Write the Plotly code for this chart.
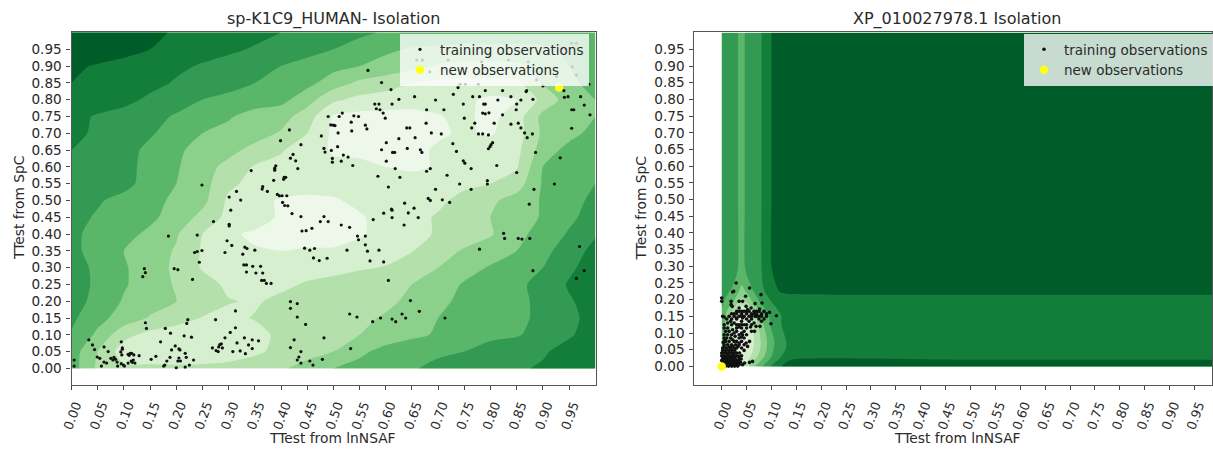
import plotly.graph_objects as go

W, H = 1213, 449
band_colors = ["#edf8ea", "#d5efcf", "#b3e0ab", "#8bd08b", "#5ab769", "#339a53", "#137e3a", "#005c29"]
tick_vals = [round(i * 0.05, 2) for i in range(20)]
tick_text = [f"{v:.2f}" for v in tick_vals]

left_title = "sp-K1C9_HUMAN- Isolation"
right_title = "XP_010027978.1 Isolation"
x_label = "TTest from lnNSAF"
y_label = "TTest from SpC"
train_name = "training observations"
new_name = "new observations"

left_grid_x = [0, .05, .10, .15, .20, .25, .30, .35, .40, .45, .50, .55, .60, .65, .70, .75, .80, .85, .90, .95, 1.0]
left_grid_y = [0, .05, .10, .15, .20, .25, .30, .35, .40, .45, .50, .55, .60, .65, .70, .75, .80, .85, .90, .95, 1.0]
left_levels = [
 [4.0,2.3,1.7,1.7,1.7,1.7,1.8,2.1,2.4,2.8,3.5,3.8,4.1,4.4,4.8,5.1,5.3,5.4,5.6,6.0,6.3],
 [4.0,2.5,1.0,0.9,0.8,0.9,1.0,1.3,1.8,2.2,2.5,3.3,3.8,4.1,4.3,4.5,5.0,5.2,5.4,5.8,6.2],
 [4.4,3.3,1.8,1.2,1.0,0.9,1.0,1.2,1.7,2.0,2.3,2.5,3.0,3.3,3.6,4.0,4.2,4.4,4.9,5.4,5.9],
 [4.7,3.8,3.1,2.4,1.9,1.45,1.3,1.55,1.9,2.0,2.1,2.3,2.6,3.1,3.5,3.8,4.1,4.3,4.7,5.3,5.8],
 [4.9,4.2,3.4,2.9,2.5,2.0,1.55,1.4,1.7,1.9,2.1,2.2,2.3,2.7,3.3,3.7,4.0,4.3,4.7,5.4,5.9],
 [5.0,4.3,3.6,3.0,2.4,1.9,1.3,1.2,1.3,1.6,1.8,2.0,2.2,2.5,3.0,3.6,3.9,4.3,4.8,5.6,6.2],
 [4.9,4.3,3.6,3.0,2.3,1.4,1.1,1.0,1.0,1.1,1.2,1.4,1.55,2.1,2.5,3.1,3.6,4.0,4.5,5.3,6.0],
 [4.7,4.2,3.5,3.0,2.4,1.4,0.9,0.55,0.5,0.55,0.55,0.8,1.1,1.45,2.1,2.6,3.0,3.5,4.2,5.0,5.8],
 [4.7,4.2,3.8,3.3,2.6,1.5,0.6,0.4,0.3,0.3,0.3,0.4,0.8,1.2,1.6,2.0,2.4,3.2,3.9,4.6,5.4],
 [4.8,4.4,4.0,3.7,3.1,2.2,1.2,0.8,0.4,0.3,0.3,0.4,0.8,1.2,1.6,2.0,2.5,3.0,3.6,4.3,4.9],
 [5.0,4.6,4.2,3.8,3.3,2.8,1.3,0.8,0.4,0.3,0.4,0.7,0.9,1.1,1.3,1.8,2.3,2.9,3.6,4.2,4.7],
 [5.2,5.0,4.8,4.1,3.5,2.9,1.7,1.2,1.0,0.9,0.9,0.9,0.9,1.0,1.1,1.3,1.5,2.0,3.6,4.0,4.5],
 [5.3,5.1,4.8,4.2,3.6,2.9,2.2,1.4,1.2,0.8,0.7,0.8,0.5,0.3,0.6,0.8,1.0,1.4,3.5,4.0,4.4],
 [5.5,5.2,4.8,4.3,3.7,3.1,2.8,2.2,1.6,0.9,0.4,0.2,0.2,0.3,0.6,0.8,1.0,1.2,3.0,3.8,4.2],
 [5.8,5.3,5.0,4.6,4.1,3.5,3.2,2.9,2.4,1.5,0.3,0.2,0.2,0.2,0.4,0.6,0.4,1.0,2.7,3.2,3.8],
 [5.8,5.4,5.1,4.8,4.4,4.0,3.6,3.1,2.9,2.0,0.4,0.2,0.2,0.2,0.45,0.7,0.2,1.0,2.8,3.1,3.5],
 [6.2,6.0,5.8,5.3,4.9,4.5,4.2,4.0,3.8,2.9,1.7,1.2,1.0,0.9,0.8,0.7,0.3,0.5,1.8,3.0,3.5],
 [6.5,6.3,6.1,5.8,5.4,5.1,4.9,4.5,4.2,3.8,3.0,2.3,2.0,1.5,1.3,1.2,1.2,1.3,2.6,3.3,3.8],
 [6.7,6.4,6.2,5.9,5.7,5.4,5.1,4.8,4.5,4.2,3.8,3.5,3.1,2.8,2.4,2.2,2.2,2.3,2.9,3.5,3.9],
 [7.3,7.1,6.8,6.5,6.2,5.9,5.7,5.4,5.1,4.8,4.5,4.1,3.7,3.4,3.3,3.2,3.2,3.2,3.3,3.7,4.1],
 [7.6,7.3,7.1,6.7,6.4,6.2,6.0,5.8,5.5,5.2,5.0,4.7,4.4,4.3,4.2,4.1,4.1,4.1,4.1,4.1,4.1],
]

right_grid_x = [0, .02, .03, .04, .05, .06, .08, .10, .12, .14, .5, 1.0]
right_grid_y = [0, .01, .02, .03, .05, .07, .10, .125, .15, .175, .20, .225, .25, .30, .5, 1.0]
right_levels = [
 [3.0,2.0,1.8,1.8,2.2,3.0,4.4,5.6,6.5,7.0,7.0,7.0],
 [3.2,1.6,1.2,1.1,1.6,2.4,3.9,5.2,6.3,6.8,6.9,6.9],
 [3.5,1.3,0.9,0.8,1.2,2.0,3.5,4.8,5.8,6.5,6.5,6.5],
 [3.8,1.2,0.7,0.5,1.0,1.6,3.1,4.5,5.5,6.0,6.2,6.2],
 [4.0,1.2,0.6,0.4,0.7,1.3,2.7,4.3,5.3,5.8,6.0,6.0],
 [4.1,1.3,0.5,0.3,0.5,1.1,2.6,4.2,5.2,5.8,6.0,6.0],
 [4.2,1.5,0.5,0.2,0.5,1.2,2.8,4.4,5.4,5.8,6.0,6.0],
 [4.3,1.8,0.7,0.3,0.6,1.4,3.2,4.7,5.5,5.9,6.0,6.0],
 [4.3,2.0,0.9,0.4,0.8,1.6,3.4,4.8,5.5,5.9,6.0,6.0],
 [4.5,3.0,2.0,1.2,1.6,2.5,4.2,5.2,5.8,6.0,6.1,6.1],
 [4.7,4.0,3.2,2.3,2.8,3.6,4.9,5.6,6.0,6.1,6.2,6.2],
 [4.9,4.4,3.8,3.2,3.6,4.3,5.2,6.2,6.6,6.7,6.7,6.7],
 [5.0,4.7,4.2,3.6,4.1,4.7,5.4,6.3,6.8,6.9,7.0,7.0],
 [5.1,5.0,4.8,3.8,4.9,5.0,5.5,6.5,6.9,7.0,7.0,7.0],
 [5.1,5.0,4.8,3.8,4.9,5.0,5.5,6.5,6.9,7.0,7.0,7.0],
 [5.1,5.0,4.8,3.8,4.9,5.0,5.5,6.5,6.9,7.0,7.0,7.0],
]

left_train = [
 (.416,.710),(.399,.678),(.438,.666),(.423,.637),(.418,.626),(.428,.618),(.432,.595),(.343,.589),(.390,.603),(.388,.596),(.388,.590),
 (.406,.569),(.409,.569),(.405,.563),(.386,.560),(.249,.546),(.365,.541),(.364,.534),(.374,.527),(.315,.527),(.301,.510),(.323,.501),
 (.393,.518),(.397,.514),(.402,.514),(.411,.514),(.403,.494),(.407,.485),(.413,.484),(.304,.471),(.421,.461),(.438,.452),(.271,.437),(.301,.429),
 (.185,.394),(.240,.397),(.301,.424),(.440,.409),(.448,.410),(.459,.417),(.297,.380),(.306,.366),(.331,.361),(.335,.357),(.350,.352),(.327,.340),
 (.445,.358),(.455,.352),(.464,.357),(.462,.329),(.473,.321),(.293,.345),(.235,.345),(.240,.348),(.249,.351),(.244,.316),(.329,.308),(.334,.308),
 (.346,.304),(.361,.304),(.334,.287),(.352,.284),(.365,.284),(.196,.297),(.203,.294),(.139,.297),(.141,.285),(.136,.273),(.231,.265),(.363,.262),
 (.368,.262),(.372,.253),(.381,.253),(.418,.199),(.431,.193),(.418,.179),(.313,.171),(.431,.153),(.447,.131),(.275,.145),(.222,.145),(.220,.134),
 (.141,.136),(.143,.119),(.179,.119),(.189,.105),(.313,.121),(.303,.107),(.215,.097),(.229,.093),(.293,.091),(.330,.091),(.345,.085),(.357,.082),
 (.338,.070),(.316,.076),(.033,.085),(.040,.070),(.044,.056),(.062,.064),(.070,.050),(.095,.079),(.097,.061),(.097,.057),(.170,.079),(.286,.073),
 (.283,.071),(.281,.064),(.269,.061),(.276,.053),(.280,.050),(.288,.061),(.308,.050),(.322,.052),(.332,.044),(.345,.059),(.425,.085),(.418,.062),
 (.438,.050),(.434,.034),(.431,.025),(.438,.016),(.455,.022),(.461,.010),(.191,.055),(.198,.067),(.205,.058),(.207,.055),(.217,.045),(.219,.033),
 (.233,.025),(.225,.010),(.217,.004),(.200,.002),(.205,.031),(.208,.022),(.203,.022),(.182,.022),(.188,.033),(.178,.010),(.176,.007),(.152,.027),
 (.161,.036),(.005,.025),(.005,.007),(.049,.034),(.054,.030),(.057,.007),(.062,.019),(.067,.016),(.075,.030),(.081,.033),(.084,.027),(.079,.025),
 (.087,.019),(.088,.007),(.094,.049),(.096,.040),(.095,.014),(.099,.010),(.101,.007),(.108,.016),(.108,.042),(.112,.045),(.115,.045),(.119,.040),
 (.110,.039),(.129,.038),(.114,.022),(.118,.025),(.116,.018),(.121,.016),
 (.515,.427),(.531,.420),(.635,.427),(.546,.394),(.561,.394),(.548,.383),(.561,.368),(.565,.349),(.587,.352),(.526,.352),(.488,.328),(.570,.320),
 (.596,.317),(.605,.262),(.825,.402),(.827,.387),(.853,.387),(.860,.385),(.875,.387),(.779,.355),(.970,.363),(.881,.291),(.979,.291),(.964,.268),
 (.647,.202),(.664,.170),(.713,.150),(.531,.162),(.545,.153),(.590,.150),(.575,.139),(.612,.147),(.619,.139),(.631,.162),(.638,.150),(.482,.091),
 (.533,.059),(.479,.027),
 (.566,.887),(.592,.851),(.610,.830),(.738,.836),(.742,.846),(.752,.846),(.777,.846),(.790,.827),(.823,.827),(.869,.827),(.868,.824),(.729,.816),
 (.900,.841),(.940,.827),(.941,.807),(.948,.809),(.972,.809),(.988,.846),(.979,.784),(.625,.801),(.655,.809),(.695,.799),(.766,.809),(.779,.809),
 (.814,.799),(.839,.809),(.858,.799),(.881,.801),(.579,.787),(.587,.787),(.612,.787),(.748,.787),(.787,.787),(.790,.787),(.850,.787),(.582,.773),
 (.589,.770),(.678,.770),(.711,.770),(.849,.770),(.955,.770),(.959,.770),(.595,.760),(.517,.760),(.511,.750),(.490,.750),(.599,.745),(.785,.760),
 (.790,.758),(.797,.761),(.823,.755),(.750,.745),(.990,.755),(.539,.752),(.548,.750),(.534,.733),(.677,.730),(.770,.730),(.807,.730),(.839,.727),
 (.853,.730),(.495,.725),(.500,.724),(.503,.723),(.561,.724),(.564,.713),(.640,.716),(.646,.716),(.764,.716),(.858,.716),(.955,.715),(.509,.701),
 (.535,.707),(.687,.701),(.706,.698),(.777,.698),(.785,.698),(.796,.695),(.865,.701),(.880,.698),(.870,.687),(.477,.692),(.625,.684),(.656,.687),
 (.601,.672),(.728,.669),(.804,.672),(.801,.666),(.799,.660),(.796,.654),(.482,.655),(.508,.660),(.496,.649),(.484,.644),(.592,.651),(.641,.655),
 (.666,.651),(.669,.643),(.735,.646),(.613,.643),(.617,.643),(.886,.643),(.519,.635),(.528,.629),(.498,.625),(.515,.617),(.498,.614),(.601,.617),
 (.933,.627),(.748,.618),(.751,.611),(.537,.604),(.763,.595),(.812,.604),(.618,.595),(.685,.595),(.678,.587),(.850,.583),(.717,.575),(.585,.572),
 (.627,.569),(.794,.559),(.794,.549),(.741,.549),(.922,.549),(.605,.540),(.695,.533),(.763,.533),(.883,.533),(.681,.506),(.685,.500),(.708,.502),
 (.722,.494),(.874,.489),(.636,.492),(.611,.474),(.612,.471),(.654,.477),(.596,.462),(.643,.463),(.612,.449),(.662,.449),(.576,.443),(.482,.452),
 (.475,.437),(.490,.437),
 (.659,.918),(.670,.918),(.719,.918),(.955,.968),(.964,.968),(.872,.913),(.956,.898),(.964,.873),(.888,.859),(.926,.869),(.684,.883),(.783,.913),(.834,.918),
]
left_new = [(.931, .836)]

right_train = [
 (.029,.250),(.056,.235),(.022,.223),(.024,.225),(.000,.205),(.000,.195),(.019,.195),(.048,.210),(.079,.215),(.035,.195),(.042,.195),(.019,.185),
 (.067,.188),(.081,.190),(.021,.180),(.049,.180),(.059,.175),(.076,.172),(.096,.162),(.110,.152),(.099,.128),(.002,.150),(.005,.148),
 (.030,.165),(.035,.165),(.040,.165),(.045,.165),(.050,.165),(.055,.165),(.065,.165),(.070,.165),(.075,.165),(.085,.165),
 (.020,.158),(.025,.158),(.030,.158),(.040,.158),(.050,.158),(.060,.158),(.065,.158),(.070,.158),(.080,.158),(.090,.158),
 (.015,.150),(.025,.150),(.035,.150),(.040,.150),(.045,.150),(.055,.150),(.060,.150),(.070,.150),(.075,.150),(.080,.150),(.090,.150),
 (.010,.142),(.020,.142),(.030,.142),(.050,.142),(.060,.142),(.075,.142),(.085,.142),(.018,.135),(.040,.135),(.055,.135),(.080,.135),
 (.069,.120),(.077,.120),(.066,.105),(.056,.075),(.049,.070),(.052,.060),(.062,.015),(.056,.012),(.046,.010),(.042,.005),(.035,.025),(.039,.022),
 (.005,.125),(.020,.125),(.030,.125),(.035,.125),(.040,.125),(.045,.125),(.050,.125),(.060,.125),
 (.005,.115),(.012,.115),(.030,.115),(.040,.115),(.050,.115),(.008,.105),(.015,.105),(.030,.105),(.045,.105),(.060,.105),
 (.005,.095),(.012,.095),(.020,.095),(.035,.095),(.042,.095),(.050,.095),(.005,.085),(.010,.085),(.018,.085),(.035,.085),(.045,.085),
 (.008,.075),(.015,.075),(.025,.075),(.030,.075),(.040,.075),(.005,.065),(.012,.065),(.020,.065),(.028,.065),(.035,.065),(.045,.065),
 (.002,.055),(.010,.055),(.018,.055),(.025,.055),(.030,.055),(.040,.055),
 (.002,.048),(.008,.048),(.014,.048),(.020,.048),(.026,.048),(.000,.040),(.005,.040),(.010,.040),(.015,.040),(.020,.040),(.025,.040),(.030,.040),
 (.000,.032),(.005,.032),(.010,.032),(.015,.032),(.020,.032),(.025,.032),(.030,.032),(.002,.025),(.007,.025),(.012,.025),(.017,.025),(.022,.025),(.027,.025),
 (.000,.018),(.005,.018),(.010,.018),(.015,.018),(.020,.018),(.025,.018),(.030,.018),(.035,.018),
 (.002,.011),(.007,.011),(.012,.011),(.017,.011),(.022,.011),(.027,.011),(.032,.011),
 (.000,.005),(.005,.005),(.010,.005),(.015,.005),(.020,.005),(.025,.005),(.030,.005),(.035,.005),
 (.002,.001),(.008,.001),(.014,.001),(.020,.001),(.026,.001),(.032,.001),
 (.012,.130),(.025,.130),(.035,.118),(.022,.110),(.025,.100),(.040,.100),(.027,.090),(.040,.088),(.022,.080),(.035,.070),(.015,.058),(.022,.060),
 (.005,.058),(.036,.040),(.034,.030),(.040,.032),(.038,.012),(.003,.072),(.006,.080),(.030,.145),(.042,.145),(.067,.150),(.052,.170),(.035,.175),
 (.065,.130),(.058,.118),(.033,.060),(.045,.048),(.008,.015),(.012,.003),(.018,.008),(.023,.003),(.028,.008),(.022,.035),(.012,.036),(.006,.028),
]
right_new = [(0.0, 0.0)]

scale = [[i / 7, c] for i, c in enumerate(band_colors)]
fig = go.Figure()


def add_panel(gx, gy, z, train, new, xa, ya, legend, dot):
    fig.add_trace(go.Contour(x=gx, y=gy, z=z, xaxis=xa, yaxis=ya, colorscale=scale, zmin=0, zmax=7,
                             showscale=False, showlegend=False, hoverinfo="skip",
                             contours=dict(coloring="fill", start=0.5, end=6.5, size=1, showlines=False),
                             line=dict(width=0, smoothing=0.7)))
    fig.add_trace(go.Scatter(x=[p[0] for p in train], y=[p[1] for p in train], xaxis=xa, yaxis=ya, mode="markers",
                             name=train_name, legend=legend, marker=dict(color="#111111", size=dot)))
    fig.add_trace(go.Scatter(x=[p[0] for p in new], y=[p[1] for p in new], xaxis=xa, yaxis=ya, mode="markers",
                             name=new_name, legend=legend, marker=dict(color="#ffff14", size=8.5)))


add_panel(left_grid_x, left_grid_y, left_levels, left_train, left_new, "x", "y", "legend", 3.2)
add_panel(right_grid_x, right_grid_y, right_levels, right_train, right_new, "x2", "y2", "legend2", 3.6)

font = dict(family="DejaVu Sans", size=14, color="#2a2a2a")
axis_common = dict(showgrid=False, zeroline=False, showline=True, linecolor="#555555", linewidth=1.2, mirror=True,
                   ticks="outside", ticklen=4, tickcolor="#444444", tickwidth=1, tickvals=tick_vals, ticktext=tick_text,
                   automargin=False)
x_extra = dict(tickangle=-70, ticklabelshift=4, ticklabelstandoff=3,
               tickfont=dict(family="DejaVu Sans", size=12.8, color="#2a2a2a"))
y_extra = dict(ticklabelstandoff=2, tickfont=dict(family="DejaVu Sans", size=13.6, color="#2a2a2a"))
y_dom = [(H - 384.7) / H, (H - 32) / H]
legend_common = dict(bgcolor="rgba(255,255,255,0.78)", font=dict(family="DejaVu Sans", size=13.5, color="#2a2a2a"),
                     itemsizing="trace", xanchor="left", yanchor="top", borderwidth=0, traceorder="normal")
label_font = dict(family="DejaVu Sans", size=13.8, color="#2a2a2a")
title_font = dict(family="DejaVu Sans", size=16, color="#2a2a2a")


def note(text, px, py, fnt, angle=0):
    return dict(text=text, x=px / W, y=(H - py) / H, xref="paper", yref="paper", showarrow=False, font=fnt,
                textangle=angle, xanchor="center", yanchor="middle")


fig.update_layout(
    width=W, height=H, autosize=False, margin=dict(l=0, r=0, t=0, b=0), paper_bgcolor="white", plot_bgcolor="white",
    font=font, hovermode=False,
    xaxis=dict(axis_common, **x_extra, domain=[71.6 / W, 596.8 / W], range=[0, 1.002], anchor="y"),
    yaxis=dict(axis_common, **y_extra, domain=y_dom, range=[-0.0485, 1.0015], anchor="x"),
    xaxis2=dict(axis_common, **x_extra, domain=[695 / W, 1.0], range=[-0.0548, 0.9853], anchor="y2"),
    yaxis2=dict(axis_common, **y_extra, domain=y_dom, range=[-0.0548, 1.002], anchor="x2"),
    legend=dict(legend_common, x=400 / W, y=(H - 34) / H),
    legend2=dict(legend_common, x=1025 / W, y=(H - 34) / H),
    annotations=[
        note(left_title, 334, 19, title_font),
        note(right_title, 958, 19, title_font),
        note(x_label, 333, 438, label_font),
        note(x_label, 958, 438, label_font),
        note(y_label, 19, 208, label_font, -90),
        note(y_label, 642, 208, label_font, -90),
    ],
)

fig.write_html("out.html", config=dict(displayModeBar=False),
               post_script="document.body.style.margin='0';document.body.style.overflow='hidden';")
